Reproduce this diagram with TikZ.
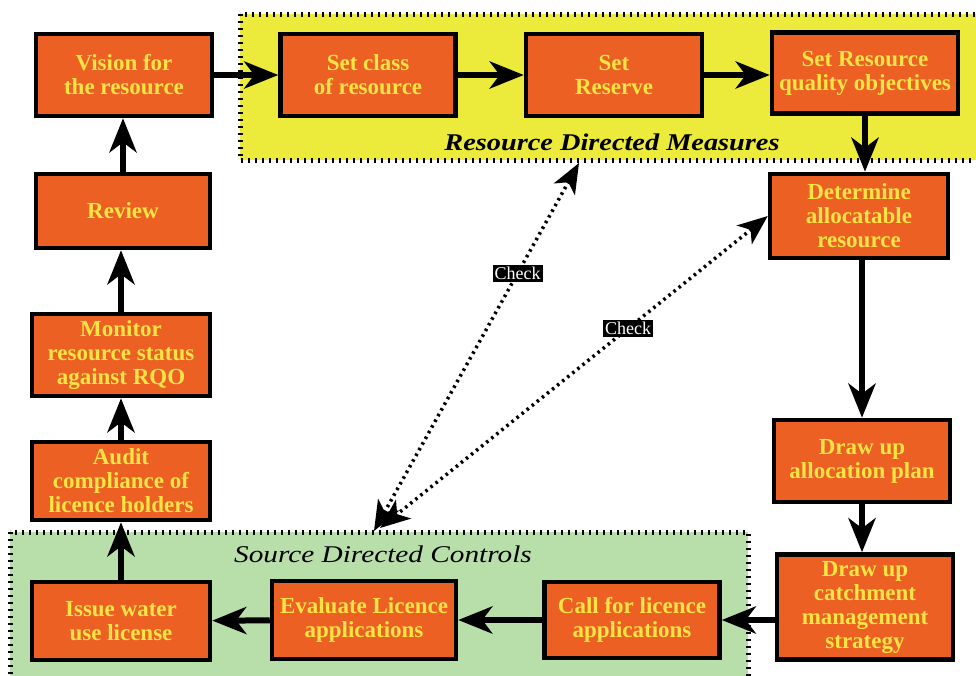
\documentclass[tikz,border=0pt]{standalone}
\usepackage{fontspec}
\setmainfont{Liberation Serif}
\usetikzlibrary{arrows.meta,calc}
\definecolor{boxfill}{RGB}{236,96,36}
\definecolor{boxtext}{RGB}{250,228,70}
\definecolor{rdm}{RGB}{236,234,58}
\definecolor{sdc}{RGB}{184,222,170}
\begin{document}
\begin{tikzpicture}[x=1pt,y=-1pt,
 box/.style={draw=black, line width=4.5pt, fill=boxfill, text=boxtext,
   font=\bfseries\fontsize{23}{24}\selectfont, align=center, inner sep=0pt},
 arr/.style={line width=6pt, -{Stealth[length=34pt,width=27pt,inset=10pt]}},
 chk/.style={line width=3.5pt, dash pattern=on 2.5pt off 4pt,
   {Stealth[length=30pt,width=24pt,inset=8pt]}-{Stealth[length=30pt,width=24pt,inset=8pt]}},
 chklbl/.style={fill=black, text=white, font=\fontsize{18}{19}\selectfont, inner sep=2pt},
 region/.style={line width=5pt, dash pattern=on 2pt off 5pt}]
\useasboundingbox (0,0) rectangle (976,675);
\fill[white] (0,0) rectangle (976,675);
\begin{scope}
\clip (0,0) rectangle (976,675);
\filldraw[fill=rdm, region] (240,14) rectangle (990,160);
\filldraw[fill=sdc, region] (10,532) rectangle (748,690);
\end{scope}
\node[font=\bfseries\itshape\fontsize{24}{26}\selectfont] (rdmlbl) at (612,142) {\scalebox{1.18}[1]{Resource Directed Measures}};
\node[font=\itshape\fontsize{24}{26}\selectfont] (sdclbl) at (383,554) {\scalebox{1.22}[1]{Source Directed Controls}};

\node[box, minimum width=176pt, minimum height=82pt] (vision) at (124,75) {Vision for\\the resource};
\node[box, minimum width=175pt, minimum height=82pt] (setclass) at (368,75) {Set class\\of resource};
\node[box, minimum width=176pt, minimum height=82pt] (reserve) at (614,75) {Set\\Reserve};
\node[box, minimum width=186pt, minimum height=81pt] (rqo) at (865,73) {Set Resource\\quality objectives};
\node[box, minimum width=178pt, minimum height=84pt] (det) at (859,216) {Determine\\allocatable\\resource};
\node[box, minimum width=176pt, minimum height=82pt] (alloc) at (862,461) {Draw up\\allocation plan};
\node[box, minimum width=176pt, minimum height=105pt] (catch) at (865,607) {Draw up\\catchment\\management\\strategy};
\node[box, minimum width=175pt, minimum height=76pt] (call) at (632,620) {Call for licence\\applications};
\node[box, minimum width=184pt, minimum height=78pt] (eval) at (364,620) {Evaluate Licence\\applications};
\node[box, minimum width=178pt, minimum height=78pt] (issue) at (121,621) {Issue water\\use license};
\node[box, minimum width=178pt, minimum height=78pt] (audit) at (121,481) {Audit\\compliance of\\licence holders};
\node[box, minimum width=178pt, minimum height=82pt] (monitor) at (121,355) {Monitor\\resource status\\against RQO};
\node[box, minimum width=174pt, minimum height=74pt] (review) at (123,211) {Review};

\draw[arr] (vision) -- (setclass);
\draw[arr] (setclass) -- (reserve);
\draw[arr] (reserve.east) -- (rqo.west |- reserve.east);
\draw[arr] (rqo.south) -- (rqo.south |- det.north);
\draw[arr] (alloc.north |- det.south) -- (alloc.north);
\draw[arr] (alloc.south) -- (alloc.south |- catch.north);
\draw[arr] (catch.west |- call.east) -- (call.east);
\draw[arr] (call) -- (eval);
\draw[arr] (eval) -- (issue);
\draw[arr] (issue.north) -- (audit.south);
\draw[arr] (audit.north) -- (monitor.south);
\draw[arr] (monitor.north) -- (monitor.north |- review.south);
\draw[arr] (review.north) -- (review.north |- vision.south);

\coordinate (c1a) at (579,163);
\coordinate (c1b) at (374,531);
\coordinate (c2b) at (380,528);
\draw[chk] (c1a) -- node[chklbl, pos=0.3] {Check} (c1b);
\draw[chk] (det.west) -- node[chklbl, pos=0.36] {Check} (c2b);
\end{tikzpicture}
\end{document}
